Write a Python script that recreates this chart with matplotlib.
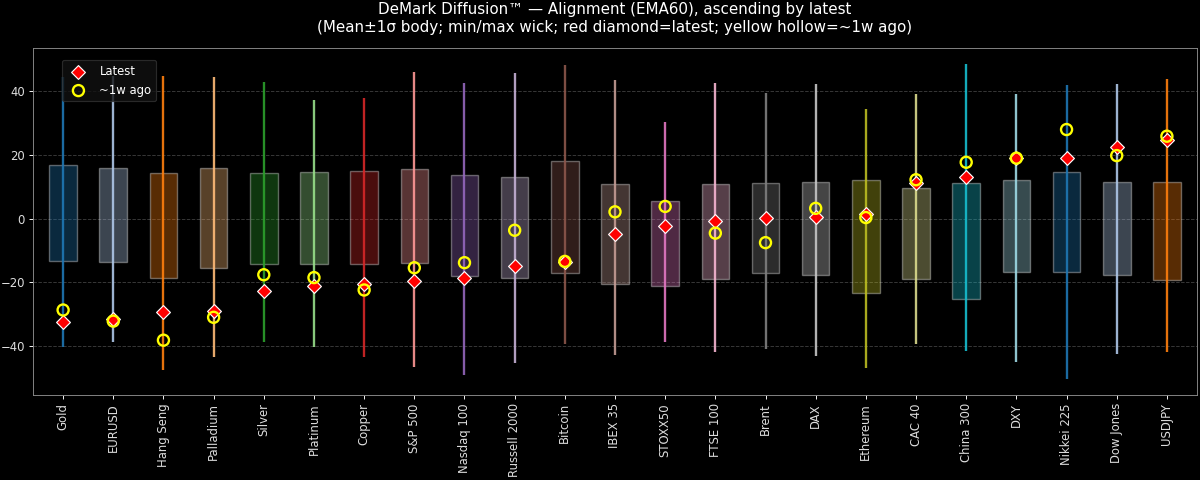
import numpy as np
import matplotlib.pyplot as plt

# Values (sorted ascending by latest)
names = ["Gold", "EURUSD", "Hang Seng", "Palladium", "Silver", "Platinum", "Copper",
         "S&P 500", "Nasdaq 100", "Russell 2000", "Bitcoin", "IBEX 35", "STOXX50",
         "FTSE 100", "Brent", "DAX", "Ethereum", "CAC 40", "China 300", "DXY",
         "Nikkei 225", "Dow Jones", "USDJPY"]
body_hi = [16.9, 15.8, 14.3, 15.8, 14.3, 14.6, 15.0, 15.7, 13.8, 13.1, 18.1, 10.8,
           5.6, 10.8, 11.2, 11.5, 12.1, 9.6, 11.2, 12.2, 14.6, 11.6, 11.5]
body_lo = [-13.4, -13.6, -18.6, -15.7, -14.3, -14.2, -14.3, -13.9, -18.0, -18.8, -17.0,
           -20.7, -21.2, -18.9, -17.1, -17.8, -23.4, -19.0, -25.4, -16.9, -16.9, -17.8, -19.3]
wick_hi = [44.5, 45.0, 45.0, 44.5, 42.9, 37.2, 37.8, 46.0, 42.8, 45.7, 48.2, 43.7,
           30.3, 42.8, 39.6, 42.4, 34.6, 39.1, 48.7, 39.1, 41.9, 42.3, 44.0]
wick_lo = [-40.4, -38.9, -47.7, -43.7, -38.9, -40.4, -43.7, -46.7, -49.3, -45.6, -39.5,
           -43.1, -38.9, -42.0, -41.2, -43.2, -47.0, -39.6, -41.7, -45.3, -50.6, -42.7, -41.9]
latest = [-32.5, -31.7, -29.5, -29.1, -22.9, -21.4, -20.5, -19.7, -18.7, -14.9, -13.6,
          -4.9, -2.3, -0.8, 0.3, 0.6, 1.5, 11.2, 13.2, 19.0, 19.2, 22.4, 24.8]
week_ago = [-28.8, -32.3, -38.3, -31.1, -17.7, -18.6, -22.5, -15.5, -13.9, -3.7, -13.5,
            2.1, 3.8, -4.6, -7.6, 3.2, 0.3, 12.2, 17.7, 19.0, 28.0, 19.8, 25.9]

DPI = 84
plt.style.use("dark_background")
fig, ax = plt.subplots(figsize=(1200 / DPI, 480 / DPI), dpi=DPI)
fig.subplots_adjust(left=0.0275, right=0.9975, top=0.9, bottom=0.177)

x = np.arange(len(names))
colors = [plt.cm.tab20(i % 20) for i in range(len(names))]
hi = np.array(body_hi)
lo = np.array(body_lo)

ax.bar(x, hi - lo, bottom=lo, width=0.55, color=colors, alpha=0.35,
       edgecolor="white", linewidth=1.2, zorder=2)
ax.vlines(x, wick_lo, wick_hi, colors=colors, linewidth=2, alpha=0.9, zorder=3)
ax.scatter(x, latest, marker="D", s=70, c="red", edgecolors="white",
           linewidths=1, zorder=4, label="Latest")
ax.scatter(x, week_ago, marker="o", s=90, facecolors="none", edgecolors="yellow",
           linewidths=2, zorder=5, label="~1w ago")

ax.set_xlim(-0.6, len(names) - 0.4)
ax.set_xticks(x)
ax.set_xticklabels(names, rotation=90, fontsize=10, color="#dddddd")
ax.tick_params(axis="y", labelsize=10, labelcolor="#dddddd")
ax.yaxis.grid(True, linestyle="--", color="gray", alpha=0.45, zorder=0)
ax.set_axisbelow(True)
for s in ax.spines.values():
    s.set_color("#888888")

ax.set_title("DeMark Diffusion™ — Alignment (EMA60), ascending by latest\n"
             "(Mean±1σ body; min/max wick; red diamond=latest; yellow hollow=~1w ago)",
             fontsize=13, pad=14)
leg = ax.legend(loc="upper left", bbox_to_anchor=(0.025, 0.965), borderaxespad=0,
                fontsize=10, facecolor="#111111", edgecolor="#333333", framealpha=0.8)

fig.savefig("out.png", dpi=DPI, facecolor="black")
